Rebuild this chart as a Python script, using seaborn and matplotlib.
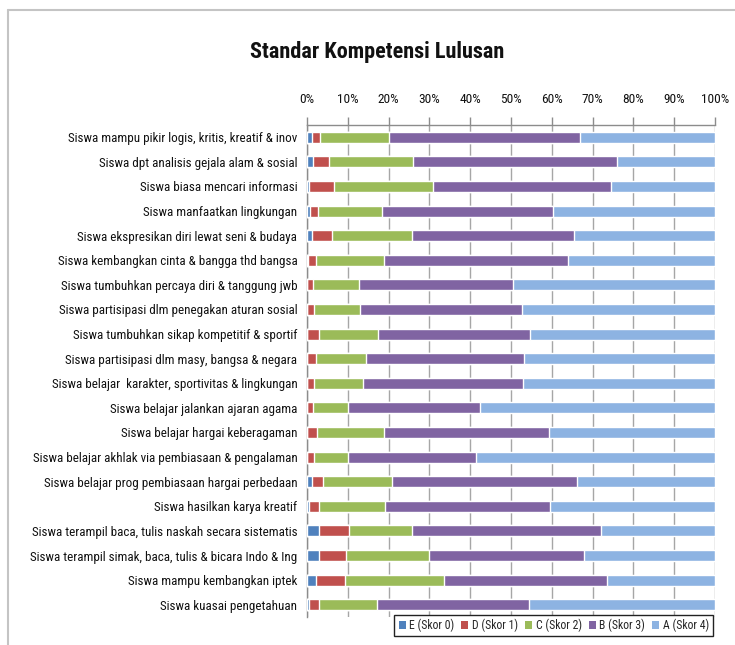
import numpy as np
import pandas as pd
import matplotlib.pyplot as plt
import seaborn as sns
from matplotlib import font_manager
from matplotlib.patches import Patch
from matplotlib.lines import Line2D
from matplotlib.ticker import MultipleLocator, FuncFormatter

sns.set_theme(style="white")

# pick a narrow font if one is installed (reference uses Calibri)
names = {(f.name, str(f.stretch)) for f in font_manager.fontManager.ttflist}
family, stretch = "Roboto", "normal"
for fam in ["Liberation Sans Narrow", "Roboto Condensed", "Open Sans Condensed", "Noto Sans Condensed"]:
    if any(n == fam for n, _ in names):
        family = fam
        break
else:
    for fam in ["DejaVu Sans", "Noto Sans", "Roboto", "Open Sans"]:
        cond = [s for n, s in names if n == fam and s in ("condensed", "semi-condensed")]
        if cond:
            family, stretch = fam, "condensed"
            break
plt.rcParams['font.family'] = [family, 'DejaVu Sans']
plt.rcParams['font.stretch'] = stretch

categories = [
    "Siswa mampu pikir logis, kritis, kreatif & inov",
    "Siswa dpt analisis gejala alam & sosial",
    "Siswa biasa mencari informasi",
    "Siswa manfaatkan lingkungan",
    "Siswa ekspresikan diri lewat seni & budaya",
    "Siswa kembangkan cinta & bangga thd bangsa",
    "Siswa tumbuhkan percaya diri & tanggung jwb",
    "Siswa partisipasi dlm penegakan aturan sosial",
    "Siswa tumbuhkan sikap kompetitif & sportif",
    "Siswa partisipasi dlm masy, bangsa & negara",
    "Siswa belajar  karakter, sportivitas & lingkungan",
    "Siswa belajar jalankan ajaran agama",
    "Siswa belajar hargai keberagaman",
    "Siswa belajar akhlak via pembiasaan & pengalaman",
    "Siswa belajar prog pembiasaan hargai perbedaan",
    "Siswa hasilkan karya kreatif",
    "Siswa terampil baca, tulis naskah secara sistematis",
    "Siswa terampil simak, baca, tulis & bicara Indo & Ing",
    "Siswa mampu kembangkan iptek",
    "Siswa kuasai pengetahuan",
]

# percentage share per score level
skor_e = [1.2, 1.5, 0.4, 0.8, 1.3, 0.2, 0.0, 0.0, 0.0, 0.0, 0.0, 0.0, 0.0, 0.0, 1.3, 0.4, 3.0, 2.9, 2.3, 0.4]
skor_d = [1.9, 3.8, 6.1, 1.9, 4.9, 2.1, 1.5, 1.8, 2.9, 2.2, 1.8, 1.5, 2.4, 1.8, 2.5, 2.6, 7.4, 6.7, 7.1, 2.6]
skor_c = [17.1, 20.7, 24.4, 15.7, 19.5, 16.5, 11.2, 11.1, 14.5, 12.3, 11.9, 8.5, 16.4, 8.2, 17.0, 16.0, 15.3, 20.4, 24.2, 14.1]
skor_b = [46.6, 49.9, 43.5, 41.8, 39.8, 45.2, 37.7, 39.7, 37.3, 38.6, 39.2, 32.3, 40.5, 31.5, 45.3, 40.6, 46.3, 37.8, 40.0, 37.4]
skor_a = [33.2, 24.1, 25.6, 39.8, 34.5, 36.0, 49.6, 47.4, 45.3, 46.9, 47.1, 57.7, 40.7, 58.5, 33.9, 40.4, 28.0, 32.2, 26.4, 45.5]

labels = ["E (Skor 0)", "D (Skor 1)", "C (Skor 2)", "B (Skor 3)", "A (Skor 4)"]
colors = ["#4F81BD", "#C0504D", "#9BBB59", "#8064A2", "#8DB3E2"]

df = pd.DataFrame({"kategori": categories, "E": skor_e, "D": skor_d,
                   "C": skor_c, "B": skor_b, "A": skor_a})
parts = ["E", "D", "C", "B", "A"]
tot = df[parts].sum(axis=1)
for p in parts:
    df[p] = df[p] / tot * 100
cum = df[parts].cumsum(axis=1)

fig = plt.figure(figsize=(7.35, 6.45), dpi=100)
renderer = fig.canvas.get_renderer()


def fit_size(text, target_px, weight="normal", maxsize=13):
    t = fig.text(0, 0, text, fontsize=10, fontweight=weight)
    w = t.get_window_extent(renderer).width
    t.remove()
    return min(maxsize, 10 * target_px / w)


lab_size = fit_size(max(categories, key=len), 266)
tick_size = fit_size("100%", 28)
title_size = fit_size("Standar Kompetensi Lulusan", 255, "bold", 20)
leg_size = fit_size("A (Skor 4)", 46)

ax = fig.add_axes([307 / 735, 1 - 617 / 645, 408 / 735, 492 / 645])

# stacked bars: draw cumulative totals from the largest down
for p, c in reversed(list(zip(parts, colors))):
    sns.barplot(x=cum[p], y=df["kategori"], color=c, orient="h",
                width=0.45, saturation=1, ax=ax, zorder=3)

ax.set_xlim(0, 100)
ax.set_ylim(len(categories) - 0.5, -0.5)
ax.xaxis.set_major_locator(MultipleLocator(10))
ax.xaxis.set_major_formatter(FuncFormatter(lambda v, _: f"{int(v)}%"))
ax.xaxis.tick_top()
ax.xaxis.set_label_position("top")
ax.set_xlabel("")
ax.set_ylabel("")
ax.grid(axis="x", color="#a6a6a6", lw=1, zorder=0)
ax.tick_params(axis="x", which="major", direction="out", length=6, width=1,
               color="#8c8c8c", labelsize=tick_size, pad=8, labelcolor="#111111")
ax.tick_params(axis="y", which="major", length=0, labelsize=lab_size, pad=7, labelcolor="#111111")
ax.set_yticks(np.arange(len(categories) + 1) - 0.5, minor=True)
ax.tick_params(axis="y", which="minor", direction="out", length=3, color="#8c8c8c")
for s in ["right", "bottom"]:
    ax.spines[s].set_visible(False)
for s in ["top", "left"]:
    ax.spines[s].set_color("#8c8c8c")
    ax.spines[s].set_linewidth(1)

fig.text(377 / 735, 1 - 52 / 645, "Standar Kompetensi Lulusan", ha="center",
         va="center", fontsize=title_size, fontweight="bold", color="#111111")

# chart area frame (top and left edges visible)
fig.add_artist(Line2D([8 / 735, 8 / 735], [0, 1 - 10 / 645], transform=fig.transFigure,
                      color="#c4c4c4", lw=1.5))
fig.add_artist(Line2D([8 / 735, 1], [1 - 10 / 645, 1 - 10 / 645], transform=fig.transFigure,
                      color="#c4c4c4", lw=1.5))

handles = [Patch(facecolor=c, edgecolor="none", label=l) for c, l in zip(colors, labels)]
leg = fig.legend(handles=handles, ncol=5, loc="lower right",
                 bbox_to_anchor=(719 / 735, 1 - 642 / 645), frameon=True, fontsize=leg_size,
                 handlelength=0.6, handleheight=0.6, handletextpad=0.3, columnspacing=0.6,
                 borderpad=0.35, fancybox=False, framealpha=1)
leg.get_frame().set_edgecolor("#222222")
leg.get_frame().set_linewidth(1)

fig.savefig("out.png", dpi=100, facecolor="white")
